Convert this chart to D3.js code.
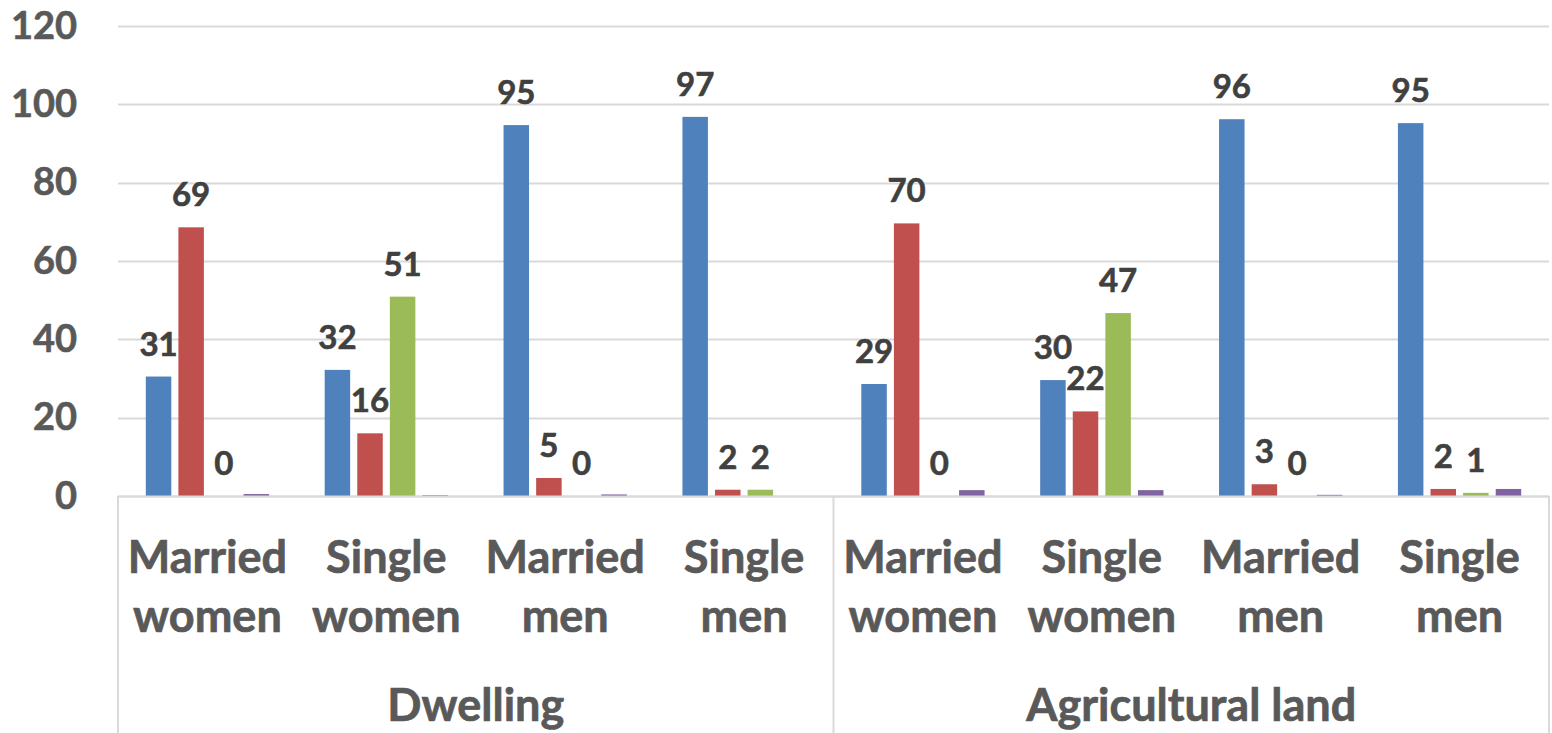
<!DOCTYPE html>
<html>
<head>
<meta charset="utf-8">
<script src="https://cdn.jsdelivr.net/npm/d3@7"></script>
<style>
  body { margin: 0; background: #fff; }
  svg { display: block; font-family: Lato, "Open Sans", sans-serif; font-weight: bold; }
</style>
</head>
<body>
<div class="chart"></div>
<script>
/*------------------------------- data -------------------------------*/

const groups = ["Dwelling", "Agricultural land"];
const categories = ["Married women", "Single women", "Married men", "Single men"];
const seriesNames = ["Series 1", "Series 2", "Series 3", "Series 4"];

// one value per category, Dwelling first then Agricultural land
const series1 = [30.5, 32.2, 94.7, 96.8, 28.6, 29.6, 96.2, 95.2];
const series2 = [68.6, 16.0, 4.6, 1.6, 69.6, 21.6, 3.0, 1.8];
const series3 = [0, 50.9, 0, 1.6, 0, 46.7, 0, 0.8];
const series4 = [0.5, 0.2, 0.4, 0, 1.5, 1.5, 0.3, 1.8];

const yTicks = [0, 20, 40, 60, 80, 100, 120];

const colors = ["#4f81bd", "#c0504d", "#9bbb59", "#8064a2"];
const labelled = [true, true, true, false];

/*------------------------------- setup -------------------------------*/

const size = { width: 1552, height: 733 };
const margin = { top: 26, right: 3, bottom: 237, left: 118 };

const svg = d3.select(".chart").append("svg")
    .attr("width", size.width)
    .attr("height", size.height);

const plotW = size.width - margin.left - margin.right;
const plotH = size.height - margin.top - margin.bottom;

const allSeries = [series1, series2, series3, series4];
const slots = [];
groups.forEach((g, gi) => categories.forEach((c, ci) => slots.push({ group: g, cat: c, i: gi * categories.length + ci })));

const x = d3.scaleBand().domain(slots.map(d => d.i)).range([0, plotW]).padding(0);
const xInner = d3.scaleBand().domain(seriesNames).range([0, x.bandwidth()]).paddingInner(0.218).paddingOuter(0.853);
const y = d3.scaleLinear().domain([0, 120]).range([plotH, 0]);

const g = svg.append("g").attr("transform", `translate(${margin.left},${margin.top})`);

//gridlines
g.append("g")
    .selectAll("line")
    .data(yTicks)
    .enter()
    .append("line")
    .attr("x1", 0)
    .attr("x2", plotW)
    .attr("y1", d => Math.round(y(d)) + 0.5)
    .attr("y2", d => Math.round(y(d)) + 0.5)
    .attr("stroke", "#d9d9d9")
    .attr("stroke-width", 2);

//y axis labels
const yAxis = d3.axisLeft(y).tickValues(yTicks).tickSize(0).tickPadding(41);
g.append("g").call(yAxis)
    .call(a => a.select(".domain").remove())
    .selectAll("text")
    .attr("font-family", "Lato, sans-serif")
    .attr("font-weight", "bold")
    .attr("font-size", 38)
    .attr("fill", "#595959")
    .attr("stroke", "#595959")
    .attr("stroke-width", 0.6);

//category axis frame
const frame = g.append("g").attr("stroke", "#d9d9d9").attr("stroke-width", 2);
const groupEdges = d3.range(groups.length + 1).map(k => k * categories.length);
frame.selectAll("line.sep")
    .data(groupEdges)
    .enter()
    .append("line")
    .attr("x1", d => d < slots.length ? x(d) : plotW)
    .attr("x2", d => d < slots.length ? x(d) : plotW)
    .attr("y1", plotH)
    .attr("y2", size.height - margin.top);

//bars
const barData = [];
slots.forEach(s => allSeries.forEach((arr, k) => barData.push({ slot: s.i, k, name: seriesNames[k], value: arr[s.i] })));

g.append("g")
    .selectAll("rect")
    .data(barData.filter(d => d.value > 0))
    .enter()
    .append("rect")
    .attr("x", d => x(d.slot) + xInner(d.name))
    .attr("width", xInner.bandwidth())
    .attr("y", d => y(d.value))
    .attr("height", d => plotH - y(d.value))
    .attr("fill", d => colors[d.k]);

//data labels
g.append("g")
    .selectAll("text")
    .data(barData.filter(d => labelled[d.k]))
    .enter()
    .append("text")
    .attr("x", d => x(d.slot) + xInner(d.name) + xInner.bandwidth() / 2)
    .attr("y", d => y(d.value) - 21)
    .attr("text-anchor", "middle")
    .attr("font-size", 33)
    .attr("fill", "#404040")
    .attr("stroke", "#404040")
    .attr("stroke-width", 0.6)
    .text(d => d3.format(".0f")(d.value));

//baseline
g.append("line")
    .attr("x1", 0).attr("x2", plotW)
    .attr("y1", plotH + 0.5).attr("y2", plotH + 0.5)
    .attr("stroke", "#d9d9d9").attr("stroke-width", 2);

//category labels (two lines each)
const catText = g.append("g")
    .selectAll("text")
    .data(slots)
    .enter()
    .append("text")
    .attr("text-anchor", "middle")
    .attr("font-size", 45)
    .attr("fill", "#595959")
    .attr("stroke", "#595959")
    .attr("stroke-width", 0.7);
catText.selectAll("tspan")
    .data(d => d.cat.split(" ").map(w => ({ w, cx: x(d.i) + x.bandwidth() / 2 })))
    .enter()
    .append("tspan")
    .attr("x", d => d.cx)
    .attr("y", (d, i) => plotH + 77 + i * 59)
    .text(d => d.w);

//group labels
g.append("g")
    .selectAll("text")
    .data(groups)
    .enter()
    .append("text")
    .attr("x", (d, gi) => (x(gi * categories.length) + (gi + 1 < groups.length ? x((gi + 1) * categories.length) : plotW)) / 2)
    .attr("y", plotH + 225)
    .attr("text-anchor", "middle")
    .attr("font-size", 45)
    .attr("fill", "#595959")
    .attr("stroke", "#595959")
    .attr("stroke-width", 0.7)
    .text(d => d);
</script>
</body>
</html>
